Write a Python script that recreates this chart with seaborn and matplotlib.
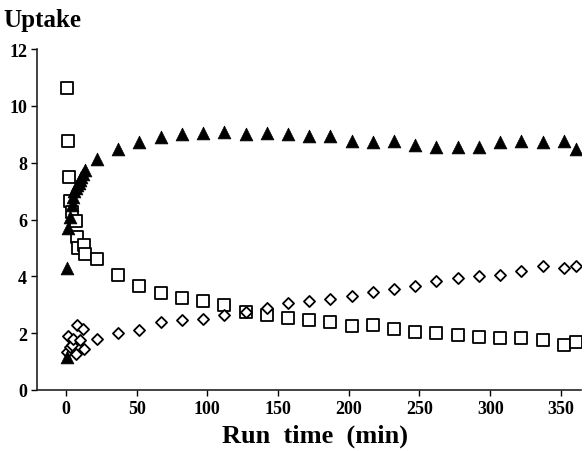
import matplotlib
matplotlib.use("Agg")
import matplotlib.pyplot as plt
import seaborn as sns
import pandas as pd

# ---- data ----
tri_t = [0.5, 1, 1.5, 3, 4, 5, 6, 7, 8, 9, 10, 11, 12, 13.5,
         22, 37, 52, 67, 82, 97, 112, 127, 142, 157, 172, 187, 202, 217,
         232, 247, 262, 277, 292, 307, 322, 337, 352, 361]
tri_v = [1.15, 4.3, 5.7, 6.1, 6.5, 6.8, 7.0, 7.1, 7.2, 7.3, 7.4, 7.5, 7.6, 7.75,
         8.14, 8.49, 8.73, 8.9, 9.02, 9.05, 9.08, 9.0, 9.05, 9.02, 8.94, 8.94, 8.78, 8.73,
         8.76, 8.61, 8.57, 8.55, 8.55, 8.73, 8.76, 8.73, 8.76, 8.49]

sq_t = [0.5, 1.6, 2.3, 2.8, 4, 7, 7.5, 8.5, 13, 13.5,
        22, 37, 52, 67, 82, 97, 112, 127, 142, 157, 172, 187, 202, 217,
        232, 247, 262, 277, 292, 307, 322, 337, 352, 361]
sq_v = [10.62, 8.75, 7.5, 6.65, 6.25, 5.95, 5.4, 5.0, 5.1, 4.8,
        4.6, 4.05, 3.65, 3.4, 3.25, 3.15, 3.0, 2.75, 2.65, 2.55, 2.45, 2.4, 2.25, 2.3,
        2.15, 2.05, 2.0, 1.95, 1.85, 1.82, 1.82, 1.75, 1.6, 1.68]

dia_t = [0.5, 1.5, 3, 4, 5, 7, 8, 10, 12, 13,
         22, 37, 52, 67, 82, 97, 112, 127, 142, 157, 172, 187, 202, 217,
         232, 247, 262, 277, 292, 307, 322, 337, 352, 361]
dia_v = [1.35, 1.9, 1.5, 1.6, 1.8, 1.25, 2.3, 1.75, 2.15, 1.45,
         1.8, 2.0, 2.1, 2.4, 2.45, 2.5, 2.65, 2.75, 2.9, 3.05, 3.15, 3.2, 3.3, 3.45,
         3.55, 3.65, 3.85, 3.95, 4.0, 4.05, 4.2, 4.35, 4.3, 4.35]

x_ticks = [0, 50, 100, 150, 200, 250, 300, 350]
y_ticks = [0, 2, 4, 6, 8, 10, 12]

sns.set_theme(style="ticks")
plt.rcParams['font.family'] = ['Liberation Serif', 'DejaVu Serif']
plt.rcParams['font.weight'] = 'bold'
plt.rcParams['text.color'] = 'black'
plt.rcParams['axes.labelcolor'] = 'black'
plt.rcParams['xtick.color'] = 'black'
plt.rcParams['ytick.color'] = 'black'

fig = plt.figure(figsize=(5.86, 4.52), dpi=100)
ax = fig.add_axes([0.063, 0.135, 0.928, 0.754])

df_sq = pd.DataFrame({"t": sq_t, "v": sq_v})
df_dia = pd.DataFrame({"t": dia_t, "v": dia_v})
df_tri = pd.DataFrame({"t": tri_t, "v": tri_v})

sns.scatterplot(data=df_sq, x="t", y="v", marker="s", s=66, facecolor="white",
                edgecolor="black", linewidth=1.3, ax=ax, zorder=3)
sns.scatterplot(data=df_dia, x="t", y="v", marker="D", s=32, facecolor="white",
                edgecolor="black", linewidth=1.3, ax=ax, zorder=3)
sns.scatterplot(data=df_tri, x="t", y="v", marker="^", s=85, color="black",
                edgecolor="black", linewidth=0.5, ax=ax, zorder=4)

ax.set_xlim(-20.5, 364)
ax.set_ylim(0, 12)
ax.set_xticks(x_ticks)
ax.set_yticks(y_ticks)
ax.set_xticklabels([str(v) for v in x_ticks], fontsize=13, fontweight='bold', color='black')
ax.set_yticklabels([str(v) for v in y_ticks], fontsize=13, fontweight='bold', color='black')
ax.tick_params(axis='both', direction='out', length=4, width=1, colors='black', pad=3)
for s in ['top', 'right']:
    ax.spines[s].set_visible(False)
for s in ['left', 'bottom']:
    ax.spines[s].set_color('#222222')
    ax.spines[s].set_linewidth(1.2)

ax.set_xlabel("Run  time  (min)", fontsize=19, fontweight='bold', color='black')
ax.xaxis.set_label_coords(0.511, -0.1)
ax.xaxis.label.set_va('top')
ax.set_ylabel("")
fig.text(0.005, 0.955, "Uptake", fontsize=18, fontweight='bold', ha='left', va='center',
         color='black')

fig.savefig("out.png", dpi=100)
